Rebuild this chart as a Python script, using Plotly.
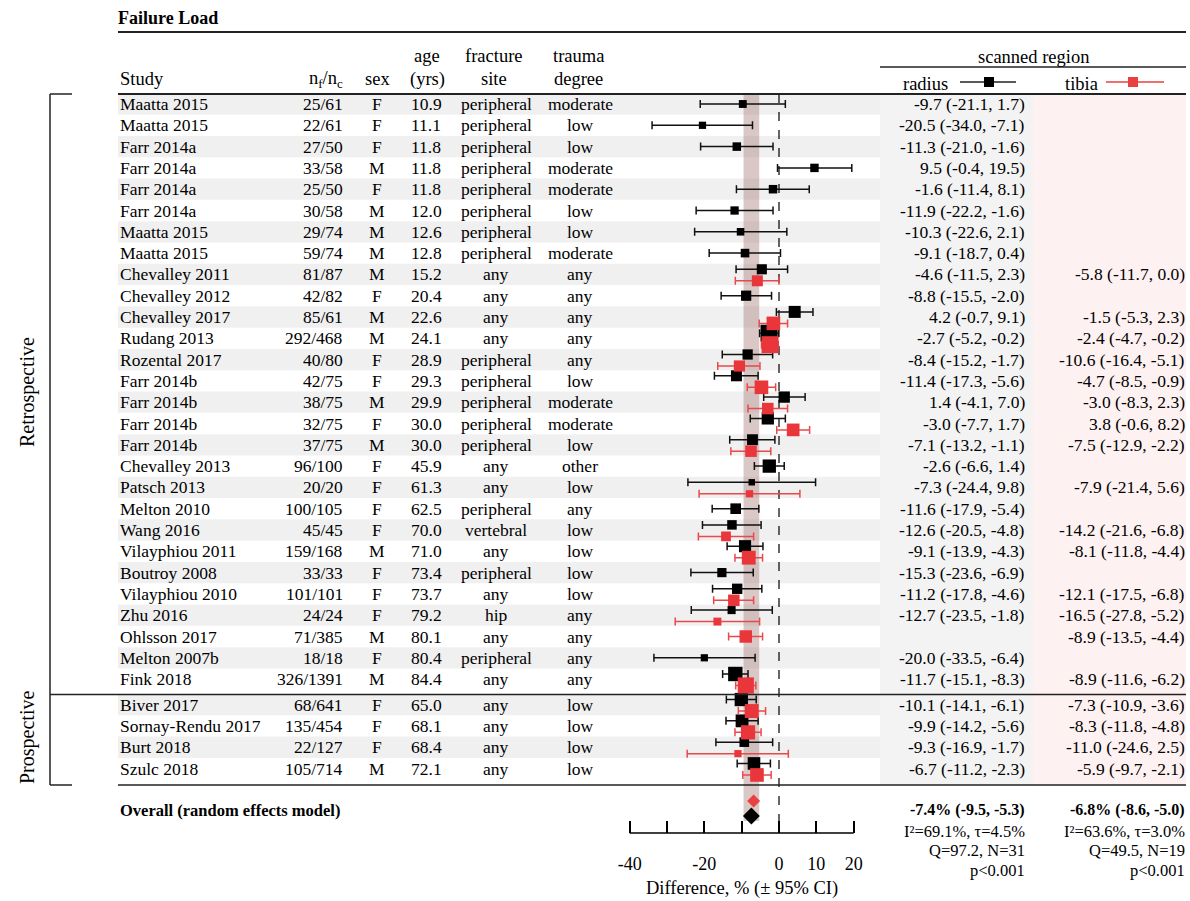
import plotly.graph_objects as go

# ---------------- data ----------------
studies = ["Maatta 2015", "Maatta 2015", "Farr 2014a", "Farr 2014a", "Farr 2014a", "Farr 2014a",
           "Maatta 2015", "Maatta 2015", "Chevalley 2011", "Chevalley 2012", "Chevalley 2017",
           "Rudang 2013", "Rozental 2017", "Farr 2014b", "Farr 2014b", "Farr 2014b", "Farr 2014b",
           "Chevalley 2013", "Patsch 2013", "Melton 2010", "Wang 2016", "Vilayphiou 2011",
           "Boutroy 2008", "Vilayphiou 2010", "Zhu 2016", "Ohlsson 2017", "Melton 2007b", "Fink 2018",
           "Biver 2017", "Sornay-Rendu 2017", "Burt 2018", "Szulc 2018"]
n_fc = ["25/61", "22/61", "27/50", "33/58", "25/50", "30/58", "29/74", "59/74", "81/87", "42/82",
        "85/61", "292/468", "40/80", "42/75", "38/75", "32/75", "37/75", "96/100", "20/20", "100/105",
        "45/45", "159/168", "33/33", "101/101", "24/24", "71/385", "18/18", "326/1391",
        "68/641", "135/454", "22/127", "105/714"]
sex = ["F", "F", "F", "M", "F", "M", "M", "M", "M", "F", "M", "M", "F", "F", "M", "F", "M", "F", "F", "F",
       "F", "M", "F", "F", "F", "M", "F", "M", "F", "F", "F", "M"]
age = ["10.9", "11.1", "11.8", "11.8", "11.8", "12.0", "12.6", "12.8", "15.2", "20.4", "22.6", "24.1",
       "28.9", "29.3", "29.9", "30.0", "30.0", "45.9", "61.3", "62.5", "70.0", "71.0", "73.4", "73.7",
       "79.2", "80.1", "80.4", "84.4", "65.0", "68.1", "68.4", "72.1"]
fracture_site = ["peripheral"] * 8 + ["any", "any", "any", "any", "peripheral", "peripheral", "peripheral",
                 "peripheral", "peripheral", "any", "any", "peripheral", "vertebral", "any", "peripheral",
                 "any", "hip", "any", "peripheral", "any", "any", "any", "any", "any"]
trauma = ["moderate", "low", "low", "moderate", "moderate", "low", "low", "moderate", "any", "any", "any",
          "any", "any", "low", "moderate", "moderate", "low", "other", "low", "any", "low", "low", "low",
          "low", "any", "any", "any", "any", "low", "low", "low", "low"]
design = ["Retrospective"] * 28 + ["Prospective"] * 4

radius_est = [-9.7, -20.5, -11.3, 9.5, -1.6, -11.9, -10.3, -9.1, -4.6, -8.8, 4.2, -2.7, -8.4, -11.4, 1.4,
              -3.0, -7.1, -2.6, -7.3, -11.6, -12.6, -9.1, -15.3, -11.2, -12.7, None, -20.0, -11.7,
              -10.1, -9.9, -9.3, -6.7]
radius_lo = [-21.1, -34.0, -21.0, -0.4, -11.4, -22.2, -22.6, -18.7, -11.5, -15.5, -0.7, -5.2, -15.2, -17.3,
             -4.1, -7.7, -13.2, -6.6, -24.4, -17.9, -20.5, -13.9, -23.6, -17.8, -23.5, None, -33.5, -15.1,
             -14.1, -14.2, -16.9, -11.2]
radius_hi = [1.7, -7.1, -1.6, 19.5, 8.1, -1.6, 2.1, 0.4, 2.3, -2.0, 9.1, -0.2, -1.7, -5.6, 7.0, 1.7, -1.1,
             1.4, 9.8, -5.4, -4.8, -4.3, -6.9, -4.6, -1.8, None, -6.4, -8.3, -6.1, -5.6, -1.7, -2.3]

tibia_est = [None] * 8 + [-5.8, None, -1.5, -2.4, -10.6, -4.7, -3.0, 3.8, -7.5, None, -7.9, None, -14.2,
             -8.1, None, -12.1, -16.5, -8.9, None, -8.9, -7.3, -8.3, -11.0, -5.9]
tibia_lo = [None] * 8 + [-11.7, None, -5.3, -4.7, -16.4, -8.5, -8.3, -0.6, -12.9, None, -21.4, None, -21.6,
            -11.8, None, -17.5, -27.8, -13.5, None, -11.6, -10.9, -11.8, -24.6, -9.7]
tibia_hi = [None] * 8 + [0.0, None, 2.3, -0.2, -5.1, -0.9, 2.3, 8.2, -2.2, None, 5.6, None, -6.8,
            -4.4, None, -6.8, -5.2, -4.4, None, -6.2, -3.6, -4.8, 2.5, -2.1]

overall_radius = (-7.4, -9.5, -5.3)
overall_tibia = (-6.8, -8.6, -5.0)
stats_radius = ["I\u00b2=69.1%, \u03c4=4.5%", "Q=97.2, N=31", "p<0.001"]
stats_tibia = ["I\u00b2=63.6%, \u03c4=3.0%", "Q=49.5, N=19", "p<0.001"]
x_tickvals = [-40, -30, -20, -10, 0, 10, 20]
x_ticktext = ["-40", "", "-20", "", "0", "10", "20"]

# ---------------- layout helpers ----------------
W, H = 1190, 901
ROW0, ROWH = 104.0, 21.3
FONT = "Liberation Serif"
FS = 17.5


def xp(px):
    return px / W


def yp(py):
    return 1 - py / H


def row_of_px(py):
    return (py - ROW0) / ROWH


ypos = []
for i, d in enumerate(design):
    ypos.append(i if d == "Retrospective" else i + 0.2)

fig = go.Figure()
shapes = []
ann = []

# background stripes
for i, y in enumerate(ypos):
    k = i if design[i] == "Retrospective" else i - 28
    if k % 2 == 0:
        shapes.append(dict(type="rect", xref="paper", yref="y", x0=xp(118), x1=xp(880),
                           y0=y - 0.5, y1=y + 0.5, fillcolor="#f0f0f0", line_width=0, layer="below"))
y_top = row_of_px(94)
y_bot = row_of_px(785)
shapes.append(dict(type="rect", xref="paper", yref="y", x0=xp(880), x1=xp(1033), y0=y_top, y1=y_bot,
                   fillcolor="#f3f3f3", line_width=0, layer="below"))
shapes.append(dict(type="rect", xref="paper", yref="y", x0=xp(1033), x1=xp(1186), y0=y_top, y1=y_bot,
                   fillcolor="#fdf1f1", line_width=0, layer="below"))
# overall CI band
shapes.append(dict(type="rect", xref="x", yref="y", x0=overall_radius[1], x1=overall_radius[2],
                   y0=y_top, y1=row_of_px(821), fillcolor="rgba(165,125,118,0.42)", line_width=0,
                   layer="below"))
# zero line
shapes.append(dict(type="line", xref="x", yref="y", x0=0, x1=0, y0=y_top, y1=row_of_px(833),
                   line=dict(color="black", width=1.2, dash="dash"), layer="below"))
# axis line
shapes.append(dict(type="line", xref="x", yref="y", x0=x_tickvals[0], x1=x_tickvals[-1],
                   y0=row_of_px(833), y1=row_of_px(833), line=dict(color="black", width=1.5)))


def hline(py, x0, x1, w=1.5):
    shapes.append(dict(type="line", xref="paper", yref="paper", x0=xp(x0), x1=xp(x1), y0=yp(py), y1=yp(py),
                       line=dict(color="#222", width=w)))


def vline(px, y0, y1, w=1.5):
    shapes.append(dict(type="line", xref="paper", yref="paper", x0=xp(px), x1=xp(px), y0=yp(y0), y1=yp(y1),
                       line=dict(color="#222", width=w)))


hline(32, 118, 1186, 2)
hline(67, 880, 1186, 1.5)
hline(94, 118, 1186, 2)
sep_px = ROW0 + ROWH * 27.72
hline(sep_px, 50, 1186, 1.5)
hline(785, 118, 1186, 1.5)
vline(50, 94, 785, 1.5)
hline(94, 50, 72, 1.5)
hline(785, 50, 72, 1.5)

# legend samples in header
hline(82, 960, 1016, 1.5)
shapes.append(dict(type="rect", xref="paper", yref="paper", x0=xp(984), x1=xp(994), y0=yp(87), y1=yp(77),
                   fillcolor="#000", line_width=0))
shapes.append(dict(type="line", xref="paper", yref="paper", x0=xp(1106), x1=xp(1164), y0=yp(82), y1=yp(82),
                   line=dict(color="#e8413f", width=1.5)))
shapes.append(dict(type="rect", xref="paper", yref="paper", x0=xp(1128), x1=xp(1138), y0=yp(87), y1=yp(77),
                   fillcolor="#e8413f", line_width=0))


def text(x, y, s, size=FS, anchor="left", yref="paper", bold=False, angle=0):
    ann.append(dict(x=xp(x), y=(yp(y) if yref == "paper" else y), xref="paper", yref=yref,
                    text=("<b>%s</b>" % s) if bold else s, showarrow=False, xanchor=anchor, yanchor="middle",
                    textangle=angle, font=dict(family=FONT, size=size, color="black")))


# headers
text(116, 18, "Failure Load", 18, bold=True)
text(118, 79, "Study", 18.5)
text(345, 79, "n<sub>f</sub>/n<sub>c</sub>", 18.5, "right")
text(377, 79, "sex", 18.5, "center")
text(427, 56, "age", 18.5, "center")
text(427, 79, "(yrs)", 18.5, "center")
text(494, 56, "fracture", 18.5, "center")
text(494, 79, "site", 18.5, "center")
text(578, 56, "trauma", 18.5, "center")
text(578, 79, "degree", 18.5, "center")
text(1033, 57, "scanned region", 18.5, "center")
text(925, 84, "radius", 18.5, "center")
text(1081, 84, "tibia", 18.5, "center")
text(27, 392, "Retrospective", 20, "center", angle=-90)
text(27, 738, "Prospective", 20, "center", angle=-90)


def fmt(e, l, h):
    return "%.1f (%.1f, %.1f)" % (e, l, h)


for i, y in enumerate(ypos):
    text(118, y, studies[i], FS, "left", yref="y")
    text(345, y, n_fc[i], FS, "right", yref="y")
    text(377, y, sex[i], FS, "center", yref="y")
    text(426, y, age[i], FS, "center", yref="y")
    text(496, y, fracture_site[i], FS, "center", yref="y")
    text(580, y, trauma[i], FS, "center", yref="y")
    if radius_est[i] is not None:
        text(1027, y, fmt(radius_est[i], radius_lo[i], radius_hi[i]), FS, "right", yref="y")
    if tibia_est[i] is not None:
        text(1187, y, fmt(tibia_est[i], tibia_lo[i], tibia_hi[i]), FS, "right", yref="y")

# overall
text(118, 810, "Overall (random effects model)", 16.5, bold=True)
text(1027, 810, "%.1f%% (%.1f, %.1f)" % overall_radius, 16, "right", bold=True)
text(1187, 810, "%.1f%% (%.1f, %.1f)" % overall_tibia, 16, "right", bold=True)
for k, (sr, st) in enumerate(zip(stats_radius, stats_tibia)):
    text(1027, 831 + 19.5 * k, sr, 16.5, "right")
    text(1187, 831 + 19.5 * k, st, 16.5, "right")
text(742, 888, "Difference, % (\u00b1 95% CI)", 18.5, "center")


# ---------------- markers ----------------
def msize(l, h):
    se = (h - l) / 3.92
    return max(6, min(17, 19.0 / se ** 0.5))


def series(est, lo, hi, other, off):
    xs, ys, ep, em, sz = [], [], [], [], []
    for i in range(len(est)):
        if est[i] is None:
            continue
        xs.append(est[i])
        ys.append(ypos[i] + (off if other[i] is not None else 0))
        ep.append(hi[i] - est[i])
        em.append(est[i] - lo[i])
        sz.append(msize(lo[i], hi[i]))
    return xs, ys, ep, em, sz


xs, ys, ep, em, sz = series(radius_est, radius_lo, radius_hi, tibia_est, -0.24)
fig.add_trace(go.Scatter(x=xs, y=ys, mode="markers", name="radius",
                         marker=dict(symbol="square", size=sz, color="#000000", opacity=1, line_width=0),
                         error_x=dict(type="data", array=ep, arrayminus=em, color="#111111", thickness=1.5,
                                      width=4)))
xs, ys, ep, em, sz = series(tibia_est, tibia_lo, tibia_hi, radius_est, 0.3)
fig.add_trace(go.Scatter(x=xs, y=ys, mode="markers", name="tibia",
                         marker=dict(symbol="square", size=sz, color="#e8363a", opacity=1, line_width=0),
                         error_x=dict(type="data", array=ep, arrayminus=em, color="#e8494b", thickness=1.5,
                                      width=4)))
fig.add_trace(go.Scatter(x=[overall_tibia[0]], y=[row_of_px(801)], mode="markers",
                         marker=dict(symbol="diamond", size=10, color="#e8413f", opacity=1, line_width=0)))
fig.add_trace(go.Scatter(x=[overall_radius[0]], y=[row_of_px(816)], mode="markers",
                         marker=dict(symbol="diamond", size=13, color="#000", opacity=1, line_width=0)))

fig.update_layout(
    width=W, height=H, margin=dict(l=0, r=0, t=0, b=0), showlegend=False,
    paper_bgcolor="white", plot_bgcolor="white",
    shapes=shapes, annotations=ann,
    xaxis=dict(domain=[0, 1], range=[-208.68, 110.10], anchor="free", position=yp(833),
               showline=False, showgrid=False, zeroline=False, ticks="inside", ticklen=12, tickwidth=1.5,
               tickcolor="black", tickvals=x_tickvals, ticktext=x_ticktext, ticklabelstandoff=18,
               tickfont=dict(family=FONT, size=18, color="black"), fixedrange=True),
    yaxis=dict(domain=[0, 1], range=[row_of_px(901), row_of_px(0)], visible=False, fixedrange=True),
)
fig.write_html("out.html", config={"displayModeBar": False},
               post_script="document.body.style.margin='0px';document.body.style.overflow='hidden';")
